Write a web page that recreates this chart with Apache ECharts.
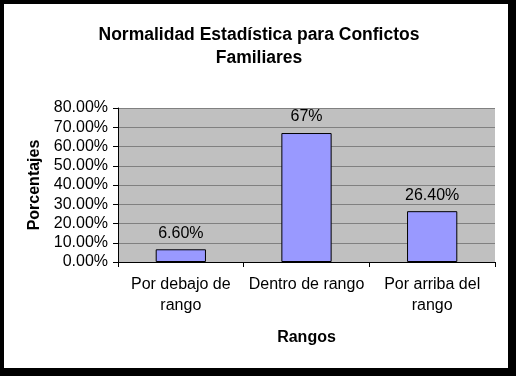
<!DOCTYPE html>
<html>
<head>
<meta charset="utf-8">
<script src="https://cdn.jsdelivr.net/npm/echarts@6/dist/echarts.min.js"></script>
<style>
  html, body { margin: 0; padding: 0; background: #fff; }
  #chart { width: 518px; height: 384px; }
</style>
</head>
<body>
<div id="chart"></div>
<script>
// datos del grafico
var categorias = ['Por debajo de\nrango', 'Dentro de rango', 'Por arriba del\nrango'];
var porcentajes = [6.6, 67, 26.4];
var etiquetas = ['6.60%', '67%', '26.40%'];
var ticksY = [0, 10, 20, 30, 40, 50, 60, 70, 80];

var fuente = '"Liberation Sans", Arial, sans-serif';

var myChart = echarts.init(document.getElementById('chart'));
myChart.setOption({
    animation: false,
    backgroundColor: '#fff',
    textStyle: {fontFamily: fuente},
    graphic: [
        // marco negro con sombra (mas grueso abajo y a la derecha)
        {type: 'rect', z: -10, shape: {x: 0, y: 0, width: 516, height: 376}, style: {fill: '#000'}},
        {type: 'rect', z: -9, shape: {x: 4, y: 4, width: 504, height: 364}, style: {fill: '#fff'}}
    ],
    title: {
        text: 'Normalidad Estadística para Confictos\nFamiliares',
        left: 'center',
        top: 19,
        textStyle: {fontFamily: fuente, fontSize: 17.5, fontWeight: 'bold', color: '#000', lineHeight: 23}
    },
    grid: {left: 118, top: 108, right: 23, bottom: 122, show: true, backgroundColor: '#c0c0c0', borderWidth: 0},
    xAxis: {
        type: 'category',
        data: categorias,
        name: 'Rangos',
        nameLocation: 'middle',
        nameGap: 68,
        nameTextStyle: {fontFamily: fuente, fontSize: 16, fontWeight: 'bold', color: '#000'},
        axisLine: {lineStyle: {color: '#000', width: 1}},
        axisTick: {show: true, length: 5, lineStyle: {color: '#000'}},
        axisLabel: {fontFamily: fuente, fontSize: 16, color: '#000', margin: 12, lineHeight: 21, interval: 0}
    },
    yAxis: {
        type: 'value',
        min: ticksY[0],
        max: ticksY[ticksY.length - 1],
        interval: 10,
        name: 'Porcentajes',
        nameLocation: 'middle',
        nameGap: 73,
        nameTextStyle: {fontFamily: fuente, fontSize: 16, fontWeight: 'bold', color: '#000'},
        axisLine: {show: true, lineStyle: {color: '#000', width: 1}},
        axisTick: {show: true, length: 5, lineStyle: {color: '#000'}},
        axisLabel: {
            fontFamily: fuente, fontSize: 16, color: '#000', margin: 10,
            formatter: function (v) { return v.toFixed(2) + '%'; }
        },
        splitLine: {show: true, lineStyle: {color: '#808080', width: 1}}
    },
    series: [{
        type: 'bar',
        data: porcentajes,
        barWidth: '40%',
        itemStyle: {color: '#9999ff', borderColor: '#000', borderWidth: 1},
        label: {
            show: true,
            position: 'top',
            distance: 8,
            fontFamily: fuente,
            fontSize: 16,
            color: '#000',
            formatter: function (p) { return etiquetas[p.dataIndex]; }
        }
    }]
});
</script>
</body>
</html>
